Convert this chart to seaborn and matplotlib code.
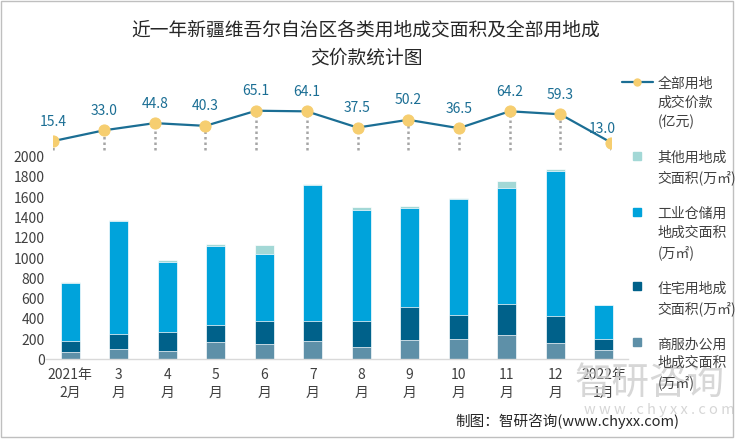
"""新疆维吾尔自治区各类用地成交面积及成交价款 组合图"""
import numpy as np
import pandas as pd
import matplotlib
matplotlib.use('Agg')
import matplotlib.pyplot as plt
from matplotlib.lines import Line2D
from matplotlib.patches import Rectangle
import seaborn as sns

# 数据
months = ['2021年\n2月', '3\n月', '4\n月', '5\n月', '6\n月', '7\n月',
          '8\n月', '9\n月', '10\n月', '11\n月', '12\n月', '2022年\n1月']
commercial = [69, 99, 85, 168, 154, 184, 121, 190, 203, 237, 161, 92]
residential = [112, 151, 187, 167, 224, 194, 257, 329, 234, 312, 266, 105]
industrial = [575, 1118, 691, 786, 664, 1339, 1096, 974, 1148, 1139, 1434, 340]
other = [10, 8, 17, 14, 86, 16, 29, 17, 7, 75, 14, 2]
price = [15.4, 33.0, 44.8, 40.3, 65.1, 64.1, 37.5, 50.2, 36.5, 64.2, 59.3, 13.0]
yticks = [0, 200, 400, 600, 800, 1000, 1200, 1400, 1600, 1800, 2000]

title = '近一年新疆维吾尔自治区各类用地成交面积及全部用地成\n交价款统计图'
labels = ['全部用地\n成交价款\n(亿元)', '其他用地成\n交面积(万㎡)', '工业仓储用\n地成交面积\n(万㎡)',
          '住宅用地成\n交面积(万㎡)', '商服办公用\n地成交面积\n(万㎡)']

C_OTHER = '#A3D8D6'
C_IND = '#00A3DB'
C_RES = '#00618A'
C_COM = '#5E90A8'
C_LINE = '#1B6E94'
C_MARK = '#F6CE70'

sns.set_style('white')
plt.rcParams['font.family'] = ['Noto Sans CJK SC', 'DejaVu Sans']
plt.rcParams['axes.unicode_minus'] = False

df = pd.DataFrame({'month': months, 'com': commercial, 'res': residential,
                   'ind': industrial, 'oth': other, 'price': price})
df['lvl1'] = df['com']
df['lvl2'] = df['lvl1'] + df['res']
df['lvl3'] = df['lvl2'] + df['ind']
df['lvl4'] = df['lvl3'] + df['oth']

W, H = 750, 440
fig = plt.figure(figsize=(7.5, 4.4), dpi=100)

# 主坐标区（柱）
ax_left, ax_right = 46, 628
ax_top, ax_bottom = 100, 359.3
pos = [ax_left / W, 1 - ax_bottom / H, (ax_right - ax_left) / W, (ax_bottom - ax_top) / H]
ax = fig.add_axes(pos)
ymax = 2000 * (ax_bottom - ax_top) / (ax_bottom - 156.7)

# 累计高度叠放，模拟堆积柱
for col, color in [('lvl4', C_OTHER), ('lvl3', C_IND), ('lvl2', C_RES), ('lvl1', C_COM)]:
    sns.barplot(data=df, x='month', y=col, color=color, saturation=1, width=0.39,
                edgecolor='white', linewidth=0.5, ax=ax, errorbar=None)

ax.set_xlim(-0.5, len(months) - 0.5)
ax.set_ylim(0, ymax)
ax.set_yticks(yticks)
ax.set_xlabel('')
ax.set_ylabel('')
for s in ['top', 'right', 'left']:
    ax.spines[s].set_visible(False)
ax.spines['bottom'].set_color('#D9D9D9')
ax.spines['bottom'].set_linewidth(1)
ax.set_xticks(np.arange(len(months) + 1) - 0.5, minor=True)
ax.tick_params(axis='x', which='minor', length=4, color='#D9D9D9', width=1)
ax.tick_params(axis='x', which='major', length=0, pad=6, labelsize=10, labelcolor='#404040')
ax.tick_params(axis='y', length=0, pad=1, labelsize=10, labelcolor='#404040')
for t in ax.get_xticklabels():
    t.set_linespacing(1.4)

# 折线（次坐标区）
ln_left, ln_right = 53.3, 611
ax2 = fig.add_axes([ln_left / W, pos[1], (ln_right - ln_left) / W, pos[3]])
ax2.patch.set_visible(False)
ax2.set_axis_off()
x_idx = np.arange(len(price))
ax2.vlines(x_idx, 0, price, colors='#A6A6A6', linestyles=(0, (1, 1.2)), linewidth=1.8, zorder=1)
sns.lineplot(x=x_idx, y=price, ax=ax2, color=C_LINE, linewidth=1.6, marker='o',
             markersize=8, markerfacecolor=C_MARK, markeredgecolor=C_MARK, zorder=2)
ax2.set_xlim(0, len(price) - 1)
ax2.set_ylim(-342.4, 82.7)
for i, v in enumerate(price):
    off = (0, 14) if i < len(price) - 1 else (-6.5, 10)
    ax2.annotate(f'{v:.1f}', (i, v), xytext=off, textcoords='offset points',
                 ha='center', va='center', fontsize=10, color=C_LINE)

# 图例
handles = [Line2D([], [], color=C_LINE, lw=1.6, marker='o', markersize=5,
                  markerfacecolor=C_MARK, markeredgecolor=C_MARK)]
for c in [C_OTHER, C_IND, C_RES, C_COM]:
    handles.append(Line2D([], [], linestyle='none', marker='s', markersize=6,
                          markerfacecolor=c, markeredgecolor=c))
leg = fig.legend(handles, labels, loc='upper left', bbox_to_anchor=(615 / W, 1 - 70 / H),
                 frameon=False, fontsize=10, handlelength=2.2, handletextpad=0.35,
                 labelspacing=1.55, borderpad=0)
for t in leg.get_texts():
    t.set_color('#404040')
    t.set_linespacing(1.45)
# 图例标记与首行文字对齐
for col in leg._legend_handle_box.get_children():
    for row in col.get_children():
        row.align = 'top'

# 标题与来源
fig.text(366 / W, 1 - 44 / H, title, ha='center', va='center', fontsize=13.5,
         color='#262626', linespacing=1.45)
fig.text(575 / W, 1 - 383 / H, '智研咨询', ha='left', va='center', fontsize=27,
         color='#D0D0D0', alpha=0.85, zorder=0)
fig.text(584 / W, 1 - 410 / H, 'w w w . c h y x x . c o m', ha='left', va='center',
         fontsize=10.5, color='#D6D6D6', zorder=0)
fig.text(455 / W, 1 - 421 / H, '制图：智研咨询(www.chyxx.com)', ha='left', va='center',
         fontsize=10.5, color='#262626')

fig.add_artist(Rectangle((1 / W, 1 - 437 / H), 732 / W, 436 / H, transform=fig.transFigure,
                         fill=False, edgecolor='#BFBFBF', linewidth=1))

fig.savefig('out.png', dpi=100)
